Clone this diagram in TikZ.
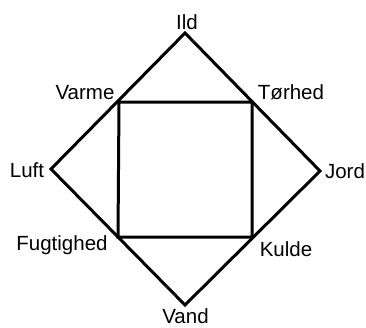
\documentclass[tikz,border=0pt]{standalone}
\usepackage{fontspec}
\setmainfont{Liberation Sans}
\begin{document}
\begin{tikzpicture}[x=1pt, y=-1pt, line width=3pt, line join=miter,
  every node/.style={anchor=base, inner sep=0pt, font=\fontsize{20.5}{21}\selectfont}]
\useasboundingbox (0,0) rectangle (366,327);
% outer diamond
\coordinate (top) at (185,33);
\coordinate (left) at (51,169);
\coordinate (right) at (320,171);
\coordinate (bottom) at (185,305);
\draw (top) -- (right) -- (bottom) -- (left) -- cycle;
% inner square
\coordinate (tl) at (119,102);
\coordinate (tr) at (252,102);
\coordinate (br) at (252,237);
\coordinate (bl) at (118,237);
\draw (tl) -- (tr) -- (br) -- (bl) -- cycle;
% labels
\node (ild) at (187,29.3) {Ild};
\node (varme) at (85,99) {Varme};
\node (torhed) at (291,99) {Tørhed};
\node (luft) at (27,177) {Luft};
\node (jord) at (345,178) {Jord};
\node (fugtighed) at (62,250) {Fugtighed};
\node (kulde) at (286,256) {Kulde};
\node (vand) at (185.5,323.5) {Vand};
\end{tikzpicture}
\end{document}
